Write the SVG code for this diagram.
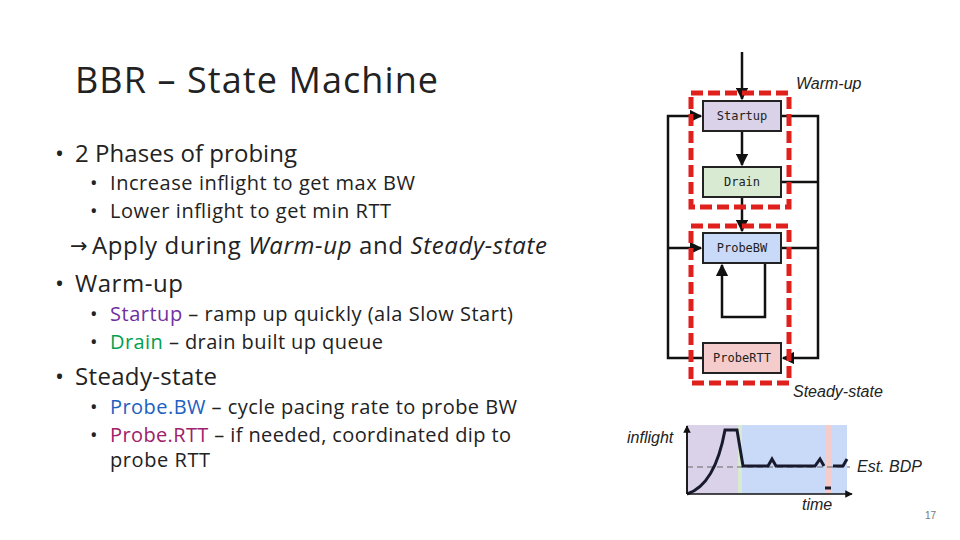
<svg xmlns="http://www.w3.org/2000/svg" width="960" height="540" viewBox="0 0 960 540">
<defs>
<style>
.t{font-family:"Open Sans","Liberation Sans",sans-serif;fill:#222}
.it{font-family:"Liberation Sans",sans-serif;font-style:italic;fill:#222}
.box{stroke:#222;stroke-width:2}
.lbl{font-family:"DejaVu Sans Mono",monospace;font-size:12px;fill:#222;text-anchor:middle}
.ln{stroke:#111;stroke-width:2.5;fill:none}
.red{fill:none;stroke:#e0201c;stroke-width:5;stroke-dasharray:12 5}
</style>
<marker id="a" viewBox="0 0 10 10" refX="9" refY="5" markerWidth="5" markerHeight="5" orient="auto"><path d="M0,0L10,5L0,10z" fill="#111"/></marker>
</defs>
<rect width="960" height="540" fill="#fff"/>
<text class="t" x="75" y="93" font-size="36" textLength="363">BBR – State Machine</text>
<g class="t" font-size="24">
<text x="55" y="162">•</text><text x="75" y="162" textLength="222">2 Phases of probing</text>
<text x="55" y="292">•</text><text x="75" y="292" textLength="108">Warm-up</text>
<text x="55" y="385">•</text><text x="75" y="385" textLength="142">Steady-state</text>
<text x="70" y="253" font-size="21" font-family="DejaVu Sans,sans-serif">→</text>
<text x="92" y="254" textLength="455">Apply during <tspan font-style="italic">Warm-up</tspan> and <tspan font-style="italic">Steady-state</tspan></text>
</g>
<g class="t" font-size="20">
<text x="90" y="190">•</text><text x="110" y="190" textLength="305">Increase inflight to get max BW</text>
<text x="90" y="218">•</text><text x="110" y="218" textLength="281">Lower inflight to get min RTT</text>
<text x="90" y="321">•</text><text x="110" y="321" textLength="403"><tspan fill="#7030a0">Startup</tspan> – ramp up quickly (ala Slow Start)</text>
<text x="90" y="349">•</text><text x="110" y="349" textLength="273"><tspan fill="#00a050">Drain</tspan> – drain built up queue</text>
<text x="90" y="414">•</text><text x="110" y="414" textLength="407"><tspan fill="#2060c0">Probe.BW</tspan> – cycle pacing rate to probe BW</text>
<text x="90" y="442">•</text><text x="110" y="442" textLength="401"><tspan fill="#a0206a">Probe.RTT</tspan> – if needed, coordinated dip to</text>
<text x="110" y="467" textLength="100">probe RTT</text>
</g>
<text class="it" x="796" y="89" font-size="16">Warm-up</text>
<text class="it" x="793" y="397" font-size="16">Steady-state</text>
<g id="connectors">
<path class="ln" d="M742,52V99" marker-end="url(#a)"/>
<path class="ln" d="M742,131V165" marker-end="url(#a)"/>
<path class="ln" d="M742,197V231" marker-end="url(#a)"/>
<path class="ln" d="M703,358H668V116H701" marker-end="url(#a)"/>
<path class="ln" d="M668,248H701" marker-end="url(#a)"/>
<path class="ln" d="M781,116H818V358H783" marker-end="url(#a)"/>
<path class="ln" d="M781,182H818M781,248H818"/>
<path class="ln" d="M765,263V317H722V265" marker-end="url(#a)"/>
</g>
<g id="startup"><rect class="box" x="703" y="101" width="78" height="30" fill="#d9d2e9"/><text class="lbl" x="742" y="120">Startup</text></g>
<g id="drain"><rect class="box" x="703" y="167" width="78" height="30" fill="#d9ead3"/><text class="lbl" x="742" y="186">Drain</text></g>
<g id="probebw"><rect class="box" x="703" y="233" width="78" height="30" fill="#c9daf8"/><text class="lbl" x="742" y="252">ProbeBW</text></g>
<g id="probertt"><rect class="box" x="703" y="343" width="78" height="30" fill="#f4cccc"/><text class="lbl" x="742" y="362">ProbeRTT</text></g>
<rect class="red" x="691" y="93" width="98" height="114"/>
<rect class="red" x="691" y="226" width="98" height="157"/>
<g id="chart">
<rect x="687" y="425" width="51" height="69" fill="#d9d2e9"/>
<rect x="738" y="425" width="4" height="69" fill="#d9ead3"/>
<rect x="742" y="425" width="105" height="69" fill="#c9daf8"/>
<rect x="825" y="425" width="6" height="69" fill="#f4cccc"/>
<line x1="687" y1="467" x2="850" y2="467" stroke="#666" stroke-dasharray="6 4"/>
<path d="M687,494Q715,485 725,430H737L743,466H768L772,459L776,466H815L820,459L824,466M833,466H843L847,459M825,488H831" fill="none" stroke="#1a1a2e" stroke-width="3"/>
<path d="M687,494V426M687,494H852" fill="none" stroke="#111" stroke-width="1.5" marker-end="url(#a)"/>
<path d="M687,494V426" fill="none" stroke="#111" stroke-width="1.5" marker-end="url(#a)"/>
<text class="it" x="627" y="443" font-size="16">inflight</text>
<text class="it" x="857" y="472" font-size="16">Est. BDP</text>
<text class="it" x="802" y="510" font-size="16">time</text>
</g>
<text x="936" y="519" font-family="Liberation Sans,sans-serif" font-size="10" fill="#777" text-anchor="end">17</text>
</svg>
